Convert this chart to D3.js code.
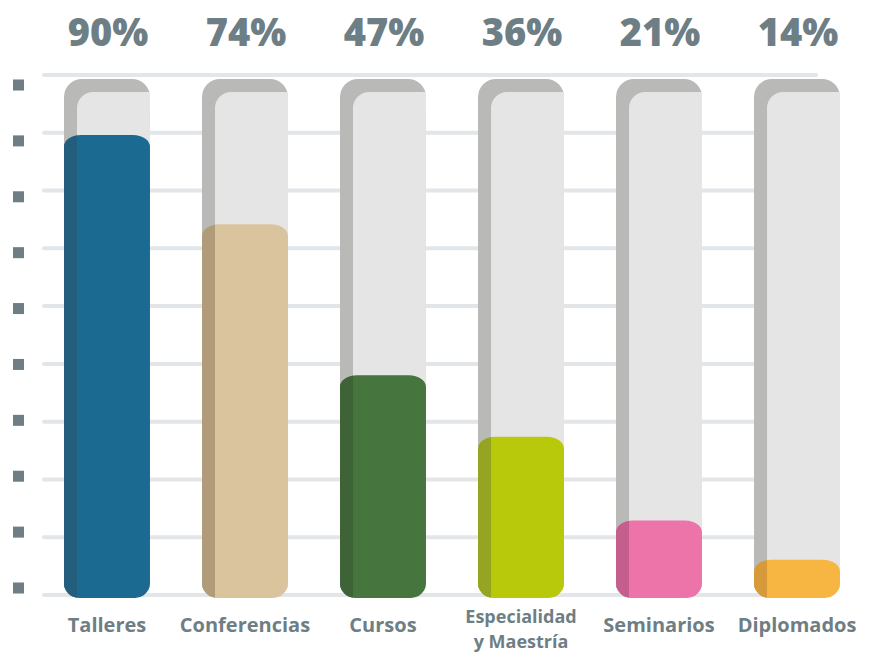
<!DOCTYPE html>
<html>
<head>
<meta charset="utf-8">
<script src="https://cdn.jsdelivr.net/npm/d3@7"></script>
<style>
  body { margin: 0; background: #fff; }
  svg { display: block; }
</style>
</head>
<body>
<div id="chart"></div>
<script>
// datos
var categories = ["Talleres", "Conferencias", "Cursos", "Especialidad y Maestría", "Seminarios", "Diplomados"];
var labelLines = [["Talleres"], ["Conferencias"], ["Cursos"], ["Especialidad", "y Maestría"], ["Seminarios"], ["Diplomados"]];
var values = [90, 74, 47, 36, 21, 14];

var mainColors = ["#1b6a91", "#d9c49e", "#46753d", "#b8c90c", "#ec74a8", "#f7b542"];
var darkColors = ["#235f7c", "#b09c7a", "#3d6337", "#95a422", "#c45e8c", "#d69a3a"];

var width = 871, height = 656;
var floorY = 598;
var textColor = "#6e7e85";

var svg = d3.select('#chart').append('svg')
    .attr('width', width)
    .attr('height', height);

var x = d3.scaleBand()
    .domain(categories)
    .range([64, 840])
    .paddingInner(0.377)
    .paddingOuter(0);

var y = d3.scaleLinear()
    .domain([0, 100])
    .range([638, 79]);

var gridY = d3.scaleLinear().domain([0, 9]).range([595, 75]);
var markY = d3.scaleLinear().domain([0, 9]).range([588, 85]);

// lineas de fondo
svg.append('g').selectAll('line')
    .data(d3.range(10))
    .enter()
    .append('line')
    .attr('x1', 44)
    .attr('x2', 816)
    .attr('y1', function(d) { return gridY(d); })
    .attr('y2', function(d) { return gridY(d); })
    .style('stroke', '#e2e6e9')
    .style('stroke-width', 4)
    .style('stroke-linecap', 'round');

// cuadritos de la izquierda
svg.append('g').selectAll('rect')
    .data(d3.range(10))
    .enter()
    .append('rect')
    .attr('x', 13)
    .attr('y', function(d) { return markY(d) - 5.5; })
    .attr('width', 11)
    .attr('height', 11)
    .style('fill', '#6f7d84');

function shape(x0, top, w, bottom, rx, ry, rb, roundRight) {
    var p = "M" + x0 + "," + (top + ry) +
        " A" + rx + "," + ry + " 0 0 1 " + (x0 + rx) + "," + top;
    if (roundRight) {
        p += " H" + (x0 + w - rx) +
            " A" + rx + "," + ry + " 0 0 1 " + (x0 + w) + "," + (top + ry);
    } else {
        p += " H" + (x0 + w);
    }
    if (rb > 0) {
        p += " V" + (bottom - rb) +
            " A" + rb + "," + rb + " 0 0 1 " + (x0 + w - rb) + "," + bottom +
            " H" + (x0 + rb) +
            " A" + rb + "," + rb + " 0 0 1 " + x0 + "," + (bottom - rb);
    } else {
        p += " V" + bottom + " H" + x0;
    }
    return p + " Z";
}

var bw = x.bandwidth();
var strip = 13;

var bars = svg.append('g').selectAll('g')
    .data(categories)
    .enter()
    .append('g');

// tubo gris
bars.append('path')
    .attr('d', function(d) { return shape(x(d), y(100), bw, floorY - 10, 18, 18, 0, true); })
    .style('fill', '#b9b9b8');
bars.append('path')
    .attr('d', function(d) { return shape(x(d) + strip, y(100) + strip, bw - strip, floorY - 10, 16, 16, 0, false); })
    .style('fill', '#e5e5e5');

var defs = svg.append('defs');
categories.forEach(function(d, i) {
    defs.append('clipPath').attr('id', 'clip' + i)
        .append('path')
        .attr('d', shape(x(d), y(values[i]), bw, floorY, 17, 12, 15, true));
});

bars.append('path')
    .attr('d', function(d, i) { return shape(x(d), y(values[i]), bw, floorY, 17, 12, 15, true); })
    .style('fill', function(d, i) { return mainColors[i]; });
bars.append('rect')
    .attr('clip-path', function(d, i) { return 'url(#clip' + i + ')'; })
    .attr('x', function(d) { return x(d); })
    .attr('y', function(d, i) { return y(values[i]); })
    .attr('width', strip)
    .attr('height', function(d, i) { return floorY - y(values[i]); })
    .style('fill', function(d, i) { return darkColors[i]; });

// porcentajes
svg.append('g').selectAll('text')
    .data(categories)
    .enter()
    .append('text')
    .attr('x', function(d) { return x(d) + bw / 2 + 1; })
    .attr('y', 46)
    .attr('text-anchor', 'middle')
    .style('font-family', '"Open Sans", sans-serif')
    .style('font-weight', 800)
    .style('font-size', '38px')
    .style('fill', textColor)
    .text(function(d, i) { return values[i] + '%'; });

// etiquetas (una linea = un texto)
var labelRows = [];
categories.forEach(function(d, i) {
    var n = labelLines[i].length;
    labelLines[i].forEach(function(t, j) {
        labelRows.push({ cat: d, text: t, row: j, n: n });
    });
});

svg.append('g').selectAll('text')
    .data(labelRows)
    .enter()
    .append('text')
    .attr('x', function(d) { return x(d.cat) + bw / 2; })
    .attr('y', function(d) { return d.n > 1 ? 623 + d.row * 25 : 632; })
    .attr('text-anchor', 'middle')
    .style('font-family', '"Open Sans", sans-serif')
    .style('font-weight', 700)
    .style('font-size', function(d) { return d.n > 1 ? '18px' : '20px'; })
    .style('fill', textColor)
    .text(function(d) { return d.text; });
</script>
</body>
</html>
